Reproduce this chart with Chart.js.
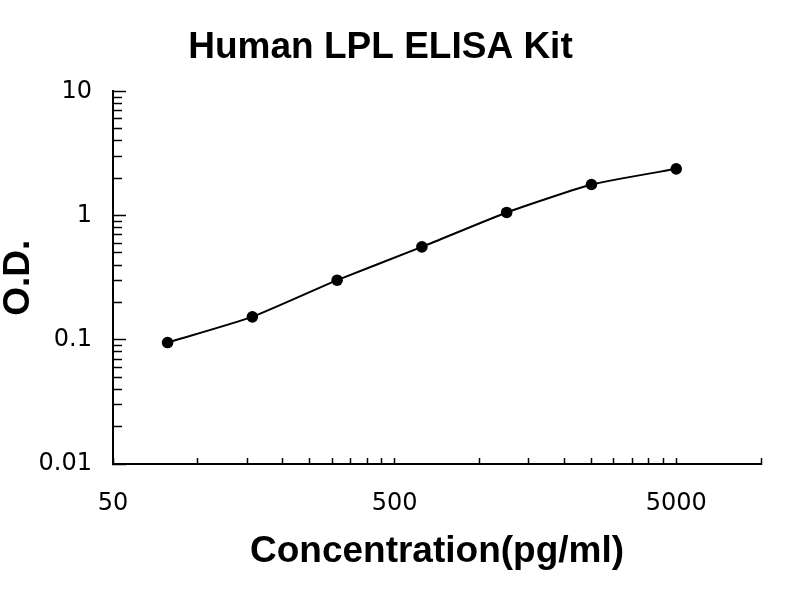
<!DOCTYPE html>
<html><head><meta charset="utf-8">
<script src="https://cdn.jsdelivr.net/npm/chart.js@4.4.0/dist/chart.umd.min.js"></script>
<style>html,body{margin:0;padding:0;background:#fff}#wrap{width:800px;height:600px;position:relative}</style>
</head><body><div id="wrap"><canvas id="c"></canvas></div>
<script>
const chartTitle = 'Human LPL ELISA Kit';
const xTitle = 'Concentration(pg/ml)';
const yTitle = 'O.D.';
const concentrations = [78.125, 156.25, 312.5, 625, 1250, 2500, 5000];
const odValues = [0.095, 0.153, 0.302, 0.560, 1.06, 1.78, 2.38];
const xTickValues = [50,100,150,200,250,300,350,400,450,500,1000,1500,2000,2500,3000,3500,4000,4500,5000,10000];
const xLabelValues = [50, 500, 5000];
const xLabels = ['50', '500', '5000'];
const yMajorTicks = [0.01, 0.1, 1, 10];
const yLabels = ['0.01', '0.1', '1', '10'];
const yMinorTicks = [0.02,0.03,0.04,0.05,0.06,0.07,0.08,0.09,0.2,0.3,0.4,0.5,0.6,0.7,0.8,0.9,2,3,4,5,6,7,8,9];

const tickFont = {family: 'DejaVu Sans', size: 24};
const titleFamily = 'Liberation Sans, Arial, sans-serif';

new Chart(document.getElementById('c'), {
  type: 'line',
  data: {
    datasets: [{
      data: concentrations.map((x, i) => ({x: x, y: odValues[i]})),
      borderColor: '#000',
      backgroundColor: '#000',
      borderWidth: 2,
      pointRadius: 5.8,
      pointBackgroundColor: '#000',
      pointBorderWidth: 0,
      tension: 0.15,
      fill: false,
      clip: false
    }]
  },
  options: {
    responsive: true,
    maintainAspectRatio: false,
    animation: false,
    devicePixelRatio: 1,
    layout: {padding: {left: 0, right: 39, top: 0, bottom: 0}},
    plugins: {
      legend: {display: false},
      tooltip: {enabled: false},
      title: {
        display: true,
        text: chartTitle,
        color: '#000',
        font: {family: titleFamily, size: 37, weight: 'bold', lineHeight: 1.2},
        padding: {top: 26, bottom: 21}
      }
    },
    scales: {
      x: {
        type: 'logarithmic',
        position: 'bottom',
        min: 50,
        max: 10000,
        afterBuildTicks: (s) => { s.ticks = xTickValues.map(v => ({value: v})); },
        afterFit: (s) => { s.height = 136; },
        ticks: {
          autoSkip: false,
          maxRotation: 0,
          color: '#000',
          font: tickFont,
          padding: 31,
          callback: (v) => { const i = xLabelValues.indexOf(v); return i >= 0 ? xLabels[i] : ''; }
        },
        grid: {drawOnChartArea: false, drawTicks: true, tickLength: -6, tickColor: '#000', tickWidth: 1.5},
        border: {display: true, color: '#000', width: 2},
        title: {
          display: true, text: xTitle, color: '#000',
          font: {family: titleFamily, size: 37, weight: 'bold', lineHeight: 1.2},
          padding: {top: 0, bottom: 26}
        }
      },
      y: {
        type: 'logarithmic',
        position: 'left',
        min: 0.01,
        max: 10,
        afterBuildTicks: (s) => { s.ticks = yMajorTicks.map(v => ({value: v})); },
        afterFit: (s) => { s.width = 113; },
        ticks: {
          autoSkip: false,
          color: '#000',
          font: tickFont,
          padding: 34,
          callback: (v) => { const i = yMajorTicks.indexOf(v); return i >= 0 ? yLabels[i] : ''; }
        },
        grid: {drawOnChartArea: false, drawTicks: true, tickLength: -13, tickColor: '#000', tickWidth: 1.5},
        border: {display: true, color: '#000', width: 2},
        title: {
          display: true, text: yTitle, color: '#000',
          font: {family: titleFamily, size: 37, weight: 'bold', lineHeight: 1},
          padding: {top: 0, bottom: 0}
        }
      },
      yMinor: {
        type: 'logarithmic',
        position: {x: 50},
        min: 0.01,
        max: 10,
        afterBuildTicks: (s) => { s.ticks = yMinorTicks.map(v => ({value: v})); },
        ticks: {display: false, autoSkip: false},
        grid: {drawOnChartArea: false, drawTicks: true, tickLength: -9, tickColor: '#000', tickWidth: 1.5},
        border: {display: false}
      }
    }
  }
});
</script>
</body></html>
